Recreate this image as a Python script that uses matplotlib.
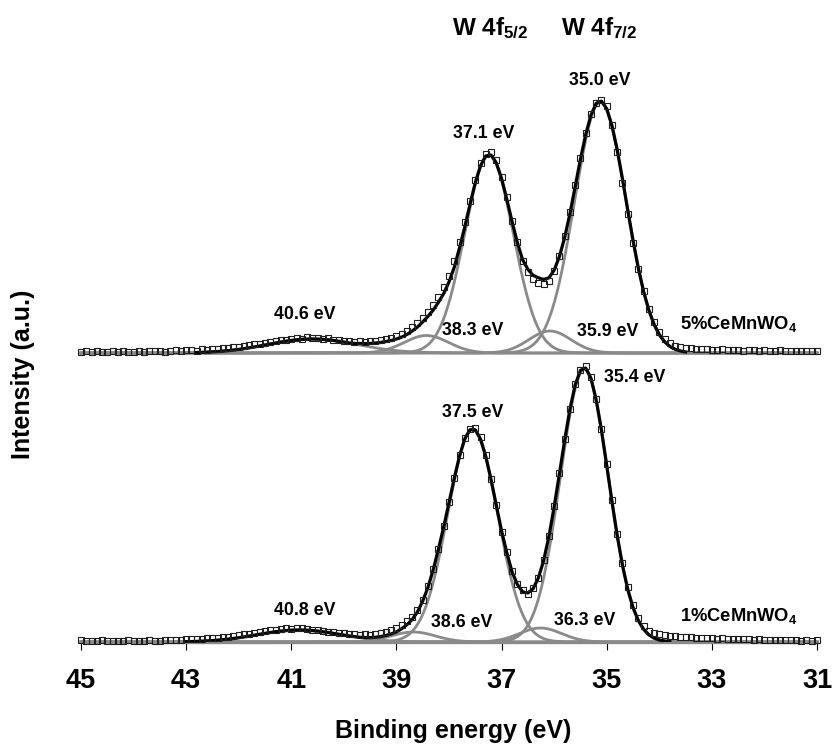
import numpy as np
import matplotlib
matplotlib.use('Agg')
import matplotlib.pyplot as plt

plt.rcParams['font.family'] = ['Liberation Sans', 'DejaVu Sans']
plt.rcParams['mathtext.fontset'] = 'custom'
plt.rcParams['mathtext.rm'] = 'Liberation Sans:bold'
plt.rcParams['mathtext.bf'] = 'Liberation Sans:bold'
plt.rcParams['mathtext.it'] = 'Liberation Sans:bold'
plt.rcParams['mathtext.default'] = 'bf'

# ---------------- data ----------------
# binding energy grid of the measured points (eV), 45.0 -> 31.0 in 0.1 eV steps
energy = np.round(np.linspace(45.0, 31.0, 141), 1)

# measured intensities (a.u.), rows of 1 eV: 45.0-44.1, 44.0-43.1, ... , 32.0-31.1, 31.0
data_1pct = [
    2, 1, 1, 1, 2, 1, 1, 1, 1, 2,
    1, 1, 1, 2, 1, 1, 2, 2, 2, 2,
    3, 3, 3, 3, 4, 4, 4, 5, 5, 6,
    7, 8, 8, 9, 10, 11, 12, 12, 13, 14,
    13, 14, 14, 13, 12, 12, 11, 10, 10, 9,
    9, 8, 8, 7, 8, 7, 8, 9, 10, 12,
    14, 17, 21, 25, 32, 42, 56, 73, 93, 116,
    140, 164, 187, 204, 213, 214, 205, 187, 163, 137,
    110, 90, 71, 58, 52, 48, 54, 64, 82, 106,
    136, 169, 203, 233, 258, 272, 276, 265, 243, 213,
    178, 142, 108, 79, 55, 37, 24, 16, 11, 9,
    8, 7, 6, 6, 5, 5, 5, 4, 4, 4,
    4, 3, 4, 3, 3, 3, 3, 3, 2, 3,
    2, 2, 2, 2, 2, 2, 2, 1, 2, 1,
    2]

data_5pct = [
    1, 2, 1, 2, 1, 1, 2, 1, 2, 1,
    1, 2, 1, 2, 2, 2, 1, 2, 3, 2,
    3, 3, 2, 4, 3, 4, 4, 5, 5, 6,
    6, 7, 8, 9, 9, 10, 11, 12, 13, 13,
    14, 15, 14, 16, 15, 15, 14, 15, 13, 13,
    12, 12, 11, 12, 11, 12, 12, 13, 14, 15,
    17, 19, 22, 26, 30, 35, 41, 48, 56, 66,
    77, 92, 111, 131, 152, 173, 190, 199, 201, 193,
    176, 156, 132, 111, 92, 81, 74, 70, 69, 72,
    82, 97, 117, 141, 168, 195, 220, 239, 250, 253,
    247, 228, 201, 170, 139, 110, 84, 62, 44, 31,
    21, 14, 10, 7, 6, 5, 5, 4, 4, 4,
    3, 3, 4, 3, 3, 3, 2, 3, 3, 2,
    3, 2, 2, 3, 2, 2, 2, 2, 2, 2,
    2]

# fitted Gaussian components (centre eV, height, sigma eV)
comp_1pct_center = [35.425, 37.55, 36.26, 38.68, 40.85]
comp_1pct_height = [273, 213, 14, 10, 12]
comp_1pct_sigma = [0.455, 0.47, 0.40, 0.42, 0.80]

comp_5pct_center = [35.12, 37.24, 36.08, 38.43, 40.6]
comp_5pct_height = [251, 198, 22, 17.5, 14]
comp_5pct_sigma = [0.49, 0.46, 0.40, 0.42, 0.85]

# background contribution included in the fitted envelope (same grid as energy)
bg_1pct = [
    0, 0, 0, 0, 0, 0, 0, 0, 0, 0,
    0, 0, 0, 0, 0, 0, 0, 0, 0, 0,
    0, 0, 0, 0, 0, 0, 0, 0, 0, 0,
    0, 0, 0, 0, 0, 0, 0, 0, 0, 0,
    0, 0, 0, 0, 0, 0, 0, 0, 0, 0,
    0, 0, 0, 0, 0, 0, 0, 0, 0, 0,
    0, 0.5, 1, 1.5, 2.5, 4, 5, 6, 6, 4,
    2, 0.5, 0, 0, 0, 0, 0, 0, 0, 0,
    0.5, 2, 2, 3, 3, 3, 2, 1, 0, 0,
    0, 0, 0, 0, 0, 0, 0, 0, 0, 0,
    0, 0, 0, 0, 0, 0, 0, 0, 0, 0,
    0, 0, 0, 0, 0, 0, 0, 0, 0, 0,
    0, 0, 0, 0, 0, 0, 0, 0, 0, 0,
    0, 0, 0, 0, 0, 0, 0, 0, 0, 0,
    0]

bg_5pct = [
    0, 0, 0, 0, 0, 0, 0, 0, 0, 0,
    0, 0, 0, 0, 0, 0, 0, 0, 0, 0,
    0, 0, 0, 0, 0, 0, 0, 0, 0, 0,
    0, 0, 0, 0, 0, 0, 0, 0, 0, 0,
    0, 0, 0, 0, 0, 0, 0, 0, 0, 0,
    0, 0, 0.5, 1.3, 2.1, 2.8, 3.6, 4.1, 4.6, 4.6,
    4.5, 4.4, 4.5, 5.3, 6.5, 8.5, 10.5, 12, 13, 12,
    10, 7, 5, 2, 0.5, 0, 0, 0, 0, 0,
    0, 0, 1, 3, 6, 12, 16, 18, 15, 10,
    6, 3, 1, 0, 0, 0, 0, 0, 0, 0,
    0, 0, 0, 0, 0, 0, 0, 0, 0, 0,
    0, 0, 0, 0, 0, 0, 0, 0, 0, 0,
    0, 0, 0, 0, 0, 0, 0, 0, 0, 0,
    0, 0, 0, 0, 0, 0, 0, 0, 0, 0,
    0]

fit_range_1pct = (43.0, 33.8)
fit_range_5pct = (42.8, 33.5)

x_ticks = [45, 43, 41, 39, 37, 35, 33, 31]

peak_labels_5pct = ['35.0 eV', '37.1 eV', '40.6 eV', '38.3 eV', '35.9 eV']
peak_labels_1pct = ['35.4 eV', '37.5 eV', '40.8 eV', '38.6 eV', '36.3 eV']

for arr in (data_1pct, data_5pct, bg_1pct, bg_5pct):
    assert len(arr) == len(energy)

# ---------------- drawing ----------------
W, H = 833, 746
GRAY = '#8a8a8a'
OFFSET_5 = 289  # vertical offset of the upper spectrum

fig = plt.figure(figsize=(W / 100, H / 100), dpi=100)
ax = fig.add_axes([81 / W, 1 - 642 / H, (817 - 81) / W, 642 / H])
ax.set_xlim(45, 31)
ax.set_ylim(0, 642)


def gauss(x, c, h, s):
    return h * np.exp(-(x - c) ** 2 / (2 * s ** 2))


xf = np.linspace(45, 31, 2801)


def draw_spectrum(data, centers, heights, sigmas, bg, frange, offset):
    for c, h, s in zip(centers, heights, sigmas):
        ax.plot(xf, offset + gauss(xf, c, h, s), color=GRAY, lw=2.0,
                zorder=2, clip_on=False)
    env = np.array(bg, dtype=float)
    for c, h, s in zip(centers, heights, sigmas):
        env = env + gauss(energy, c, h, s)
    m = (energy <= frange[0] + 1e-9) & (energy >= frange[1] - 1e-9)
    ax.plot(energy[m], offset + env[m], color='black', lw=2.3, zorder=3,
            solid_joinstyle='round')
    ax.plot(energy, offset + np.array(data), ls='none', marker='s', ms=4.8,
            mfc='none', mec='#1e1e1e', mew=0.8, zorder=4, clip_on=False)


draw_spectrum(data_1pct, comp_1pct_center, comp_1pct_height, comp_1pct_sigma,
              bg_1pct, fit_range_1pct, 0)
draw_spectrum(data_5pct, comp_5pct_center, comp_5pct_height, comp_5pct_sigma,
              bg_5pct, fit_range_5pct, OFFSET_5)

for side in ('top', 'left', 'right'):
    ax.spines[side].set_visible(False)
ax.spines['bottom'].set_color(GRAY)
ax.spines['bottom'].set_linewidth(2.4)
ax.set_yticks([])
ax.set_xticks(x_ticks)
ax.set_xticklabels([str(t) for t in x_ticks])
ax.tick_params(axis='x', direction='out', length=6, width=0.8, color='black',
               labelsize=19.5, pad=13)
for lbl in ax.get_xticklabels():
    lbl.set_fontweight('bold')


def ftext(x, y, s, size, ha='center', **kw):
    fig.text(x / W, 1 - y / H, s, fontsize=size, fontweight='bold', ha=ha,
             va='baseline', **kw)


ftext(453, 738, 'Binding energy (eV)', 18)
fig.text(23 / W, 1 - 374 / H, 'Intensity (a.u.)', fontsize=18, fontweight='bold',
         rotation=90, ha='center', va='center')

ftext(452, 35, r'W 4f$_{\mathbf{5/2}}$', 17.5, ha='left')
ftext(561, 35, r'W 4f$_{\mathbf{7/2}}$', 17.5, ha='left')

label_pos_5 = [(600, 85), (484, 138), (305, 319), (473, 335), (608, 336)]
label_pos_1 = [(635, 382), (473, 417), (305, 615), (462, 627), (585, 625)]
for s, (x, y) in zip(peak_labels_5pct, label_pos_5):
    ftext(x, y, s, 12.8)
for s, (x, y) in zip(peak_labels_1pct, label_pos_1):
    ftext(x, y, s, 12.8)

ftext(680, 329, r'5%CeMnWO$_{\mathbf{4}}$', 13.2, ha='left')
ftext(680, 621, r'1%CeMnWO$_{\mathbf{4}}$', 13.2, ha='left')

fig.savefig('out.png', dpi=100)
